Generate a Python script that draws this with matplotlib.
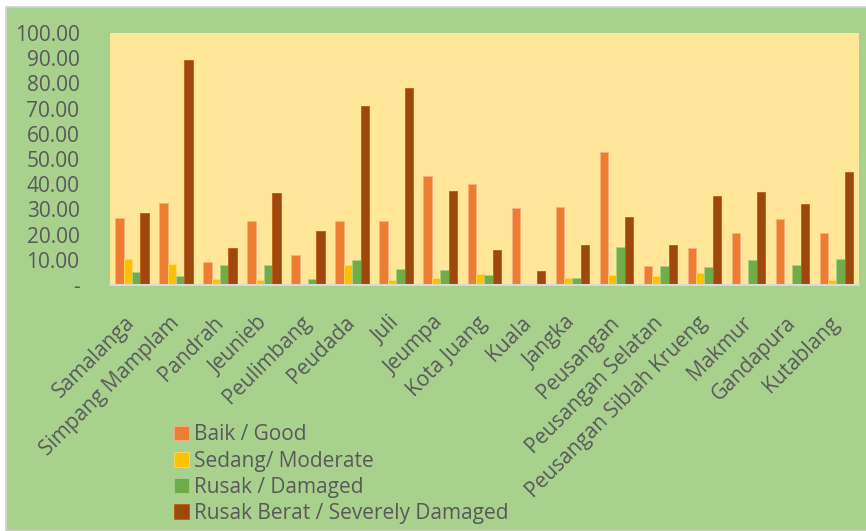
import matplotlib.pyplot as plt
import numpy as np
from matplotlib.patches import Rectangle

plt.rcParams['font.family'] = ['Open Sans', 'DejaVu Sans']

districts = ['Samalanga', 'Simpang Mamplam', 'Pandrah', 'Jeunieb', 'Peulimbang',
             'Peudada', 'Juli', 'Jeumpa', 'Kota Juang', 'Kuala', 'Jangka',
             'Peusangan', 'Peusangan Selatan', 'Peusangan Siblah Krueng',
             'Makmur', 'Gandapura', 'Kutablang']
good = [26.5, 32.5, 9.1, 25.4, 11.9, 25.4, 25.4, 43.3, 40.2, 30.6, 31.0,
        52.7, 7.4, 14.7, 20.6, 26.2, 20.6]
moderate = [10.3, 8.2, 2.4, 2.0, 0.0, 7.9, 1.9, 2.9, 4.4, 0.3, 2.9,
            4.0, 3.6, 4.6, 0.3, 0.2, 1.9]
damaged = [5.0, 3.6, 7.8, 7.8, 2.4, 9.8, 6.2, 6.0, 3.8, 0.0, 2.9,
           15.1, 7.7, 7.1, 9.9, 7.9, 10.4]
severe = [28.4, 89.2, 14.6, 36.5, 21.6, 71.1, 78.2, 37.2, 14.0, 5.4, 16.0,
          27.0, 16.0, 35.3, 36.9, 32.3, 44.7]

series = [('Baik / Good', good, '#ED7D31', '#F4B183'),
          ('Sedang/ Moderate', moderate, '#FFC000', '#FFD966'),
          ('Rusak / Damaged', damaged, '#70AD47', '#A9D18E'),
          ('Rusak Berat / Severely Damaged', severe, '#9E480E', '#C55A11')]

txt = '#595959'
fig = plt.figure(figsize=(8.66, 5.31), dpi=100, facecolor='white')
fig.patches.append(Rectangle((6 / 866, 0), 1, 1 - 7 / 531, transform=fig.transFigure,
                             facecolor='#A9D18E', edgecolor='#D0D0D0', lw=1.2, zorder=-10))

ax = fig.add_axes([110 / 866, 1 - 285 / 531, 748.5 / 866, 252 / 531])
ax.set_facecolor('#FFE699')

x = np.arange(len(districts))
w = 0.19
for i, (name, vals, col, edge) in enumerate(series):
    ax.bar(x + (i - 1.5) * w, vals, w, color=col, edgecolor=edge, linewidth=0.6, label=name)

ax.set_xlim(-0.5, len(districts) - 0.5)
ax.set_ylim(0, 100)
ax.set_yticks(range(0, 101, 10))
ax.set_yticklabels(['-'] + ['%.2f' % v for v in range(10, 101, 10)])
ax.set_xticks(x)
ax.set_xticklabels(districts, rotation=45, ha='right', va='center', rotation_mode='anchor')
ax.tick_params(length=0, labelsize=15, colors=txt)
ax.tick_params(axis='y', pad=22)
ax.tick_params(axis='x', pad=25)
for s in ['top', 'right', 'left']:
    ax.spines[s].set_visible(False)
ax.spines['bottom'].set_color('#D9D9D9')
ax.spines['bottom'].set_linewidth(1.5)

fig.legend(loc='upper left', bbox_to_anchor=(164 / 866, 1 - 414 / 531), frameon=False,
           fontsize=15, labelcolor=txt, handlelength=0.7, handleheight=0.7,
           handletextpad=0.25, labelspacing=0.25, borderpad=0)

fig.savefig('out.png', dpi=100, facecolor=fig.get_facecolor())
